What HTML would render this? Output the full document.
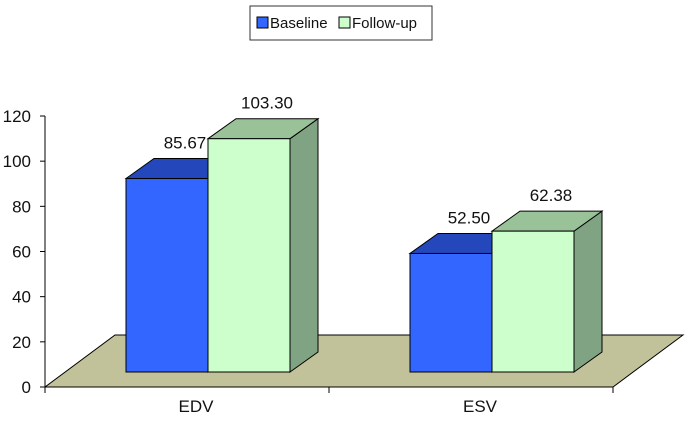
<!DOCTYPE html>
<html><head><meta charset="utf-8"><style>
body{margin:0;background:#fff;width:685px;height:416px;overflow:hidden}
text{font-family:"Liberation Sans",sans-serif;fill:#111}
</style></head><body>
<svg id="chart" width="685" height="416" xmlns="http://www.w3.org/2000/svg">
<g>
<rect x="250" y="6" width="182" height="34" fill="#fff" stroke="#333" stroke-width="1"/>
<rect x="257" y="17" width="11" height="11" fill="#3366ff" stroke="#000"/>
<text x="270" y="28" font-size="15">Baseline</text>
<rect x="339" y="17" width="11" height="11" fill="#ccffcc" stroke="#000"/>
<text x="352" y="28" font-size="15">Follow-up</text>
</g>
<g id="plot"></g>
</svg>
<script>
const categories=["EDV","ESV"];
const baseline=[85.67,52.50];
const followup=[103.30,62.38];
const yTicks=[0,20,40,60,80,100,120];
const NS="http://www.w3.org/2000/svg";
const g=document.getElementById('plot');
const X0=45,X1=613,Y0=387,S=(387-116)/120,DX=70,DY=-52,BASE=372,bdx=28,bdy=-20,BW=82;
function y(v){return Y0-v*S;}
function by(v){return BASE-v*S;}
function el(t,a,p){const e=document.createElementNS(NS,t);for(const k in a)e.setAttribute(k,a[k]);(p||g).appendChild(e);return e;}
function catX(i){return X0+(X1-X0)*(i+0.5)/categories.length;}
const floor=el('polygon',{points:`${X0},${Y0} ${X1},${Y0} ${X1+DX},${Y0+DY} ${X0+DX},${Y0+DY}`,fill:'#c2c29a',stroke:'#000','stroke-width':1});


const ax=el('line',{x1:X0,y1:y(120),x2:X0,y2:Y0+1,stroke:'#000'});


const xa=el('line',{x1:X0-5,y1:Y0,x2:X1,y2:Y0,stroke:'#000'});


yTicks.forEach(v=>{
 el('line',{x1:X0-5,y1:y(v),x2:X0,y2:y(v),stroke:'#000'});
 const t=el('text',{x:X0-14,y:y(v)+6,'text-anchor':'end','font-size':17});t.textContent=v;
 
 
});
for(let i=0;i<=categories.length;i++){const xx=X0+(X1-X0)*i/categories.length;el('line',{x1:xx,y1:Y0,x2:xx,y2:Y0+6,stroke:'#000'});}
function bar(x,v,front,top,side,name,label){
 const yt=by(v);
 const grp=el('g',{});
 
 
 el('polygon',{points:`${x+BW},${BASE} ${x+BW+bdx},${BASE+bdy} ${x+BW+bdx},${yt+bdy} ${x+BW},${yt}`,fill:side,stroke:'#000'},grp);
 el('polygon',{points:`${x},${yt} ${x+bdx},${yt+bdy} ${x+BW+bdx},${yt+bdy} ${x+BW},${yt}`,fill:top,stroke:'#000'},grp);
 el('rect',{x:x,y:yt,width:BW,height:BASE-yt,fill:front,stroke:'#000'},grp);
 const t=el('text',{x:x+BW/2+18,y:yt+bdy-10,'text-anchor':'middle','font-size':17});t.textContent=label;
 
 
}
categories.forEach((c,i)=>{
 const cx=catX(i)+21;
 bar(cx-BW,baseline[i],'#3366ff','#2447bb','#2447bb','bar-baseline-'+c.toLowerCase(),baseline[i].toFixed(2));
 bar(cx,followup[i],'#ccffcc','#99c299','#7fa383','bar-followup-'+c.toLowerCase(),followup[i].toFixed(2));
 const t=el('text',{x:catX(i)+9,y:412,'text-anchor':'middle','font-size':17});t.textContent=c;
 
 
});
</script>
</body></html>
